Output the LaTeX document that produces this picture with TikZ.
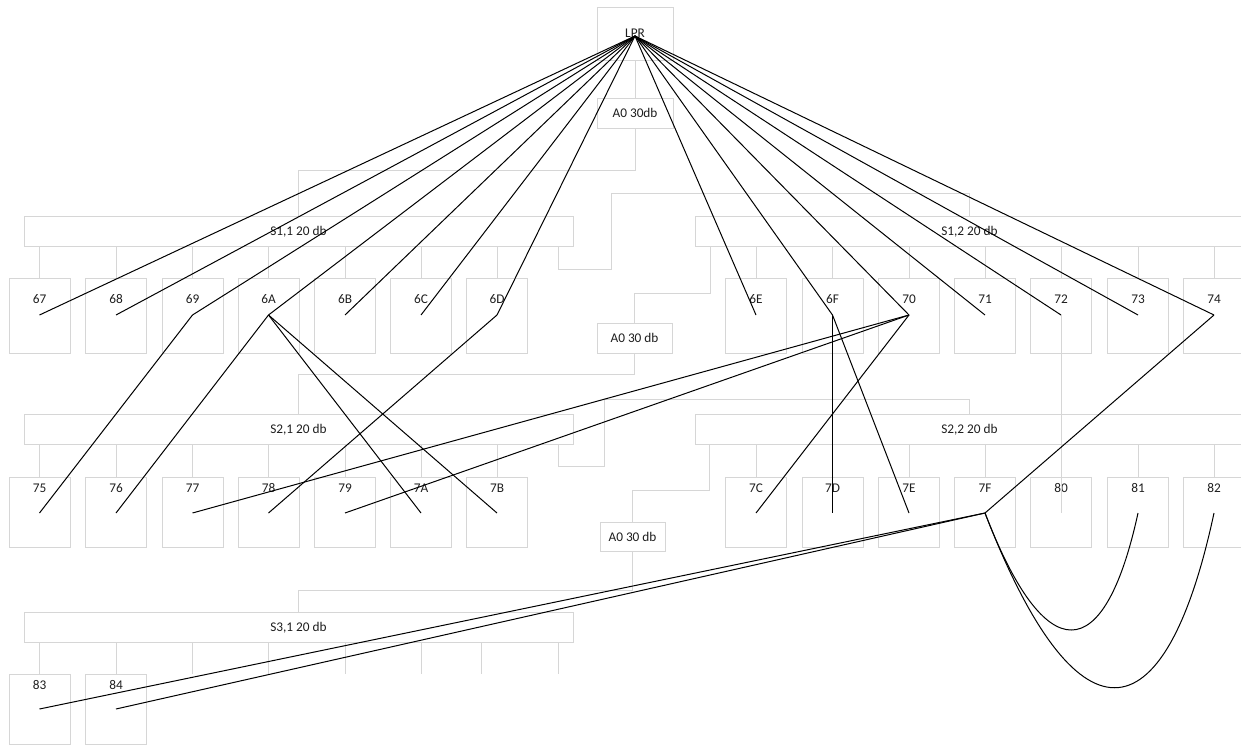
\documentclass[tikz,border=0pt]{standalone}
\usepackage{fontspec}
\setmainfont{Carlito}
\definecolor{gl}{RGB}{214,214,214}
\definecolor{tx}{RGB}{30,30,30}
\tikzset{
  gbox/.style={draw=gl, line width=0.8pt, inner sep=0pt, font=\fontsize{13.3}{15}\selectfont, text=tx},
  sbox/.style={gbox, minimum width=549pt, minimum height=30pt, text height=9.5pt, text depth=1.5pt},
  lbl/.style={inner sep=0pt, font=\fontsize{13.3}{15}\selectfont, text=tx},
  gline/.style={draw=gl, line width=0.8pt},
  link/.style={draw=black, line width=1pt},
}
\newcommand\kid[7]{%
  \node[gbox, anchor=north, minimum width=61pt, minimum height=#5pt] (b#1) at (#3,#4) {};
  \node[lbl] (t#1) at (#3,#6) {#2};
  \coordinate (p#1) at (#3,#7);
}
\begin{document}
\begin{tikzpicture}[x=1pt,y=-1pt]
\useasboundingbox (0,0) rectangle (1241,746);
% top boxes
\node[gbox, minimum width=76pt, minimum height=53pt] (LPR) at (635,33.5) {LPR};
\coordinate (hub) at (635,36);
\node[gbox, minimum width=76pt, minimum height=30pt] (A0top) at (635,113) {A0 30db};
\node[gbox, minimum width=75pt, minimum height=30pt] (A0mid) at (634.5,338) {A0 30 db};
\node[gbox, minimum width=65pt, minimum height=29pt] (A0bot) at (632.5,536.5) {A0 30 db};
% S boxes
\node[sbox] (S11) at (298.5,231) {S1,1 20 db};
\node[sbox] (S12) at (969.5,231) {S1,2 20 db};
\node[sbox] (S21) at (298.5,429) {S2,1 20 db};
\node[sbox] (S22) at (969.5,429) {S2,2 20 db};
\node[sbox] (S31) at (298.5,627) {S3,1 20 db};
% children row 1
\foreach \n/\x in {67/39.5,68/116,69/192.5,6A/268.5,6B/345,6C/421,6D/497}{
  \kid{\n}{\n}{\x}{278}{75}{299}{315}
  \draw[gline] (S11.south -| b\n.north) -- (b\n.north);
}
\foreach \n/\x in {6E/756,6F/832.5,70/909,71/985,72/1061,73/1138,74/1214}{
  \kid{\n}{\n}{\x}{278}{75}{299}{315}
  \draw[gline] (S12.south -| b\n.north) -- (b\n.north);
}
% children row 2
\foreach \n/\x in {75/39.5,76/116,77/192.5,78/268.5,79/345,7A/421,7B/497}{
  \kid{\n}{\n}{\x}{477}{70}{488}{513}
  \draw[gline] (S21.south -| b\n.north) -- (b\n.north);
}
\foreach \n/\x in {7C/756,7D/832.5,7E/909,7F/985,80/1061,81/1138,82/1214}{
  \kid{\n}{\n}{\x}{477}{70}{488}{513}
  \draw[gline] (S22.south -| b\n.north) -- (b\n.north);
}
% children row 3
\foreach \n/\x in {83/39.5,84/116}{
  \kid{\n}{\n}{\x}{674}{70}{685}{709}
  \draw[gline] (S31.south -| b\n.north) -- (b\n.north);
}
\foreach \x in {192.5,268.5,345,421,481,558}{
  \draw[gline] ([xshift={(\x-298.5)*1pt}]S31.south) -- ++(0,32);
}
% grey tree connectors
\draw[gline] (LPR.south) -- (A0top.north);
\draw[gline] (A0top.south) -- ++(0,42) -| (S11.north);
\draw[gline] ([xshift=-15pt]S11.south east) -- ++(0,23) -- ++(53,0) -- ++(0,-76) -| (S12.north);
\draw[gline] ([xshift=16pt]S12.south west) -- ++(0,47) -| (A0mid.north);
\draw[gline] (A0mid.south) -- ++(0,21) -| (S21.north);
\draw[gline] ([xshift=-15pt]S21.south east) -- ++(0,22) -- ++(46,0) -- ++(0,-67) -| (S22.north);
\draw[gline] ([xshift=15pt]S22.south west) -- ++(0,46) -| (A0bot.north);
\draw[gline] (A0bot.south) -- ++(0,39) -| (S31.north);
\draw[gline] (p72) -- (p80);
% black links
\foreach \t in {67,68,69,6A,6B,6C,6D,6E,6F,70,71,72,73,74}{
  \draw[link] (hub) -- (p\t);
}
\draw[link] (p69) -- (p75);
\draw[link] (p6A) -- (p76);
\draw[link] (p6A) -- (p7A);
\draw[link] (p6A) -- (p7B);
\draw[link] (p6D) -- (p78);
\draw[link] (p70) -- (p77);
\draw[link] (p70) -- (p79);
\draw[link] (p70) -- (p7C);
\draw[link] (p6F) -- (p7D);
\draw[link] (p6F) -- (p7E);
\draw[link] (p74) -- (p7F);
\draw[link] (p7F) -- (p83);
\draw[link] (p7F) -- (p84);
\draw[link] (p7F) .. controls (1045,669) and (1104,669) .. (p81);
\draw[link] (p7F) .. controls (1075,746) and (1164,746) .. (p82);
\end{tikzpicture}
\end{document}
